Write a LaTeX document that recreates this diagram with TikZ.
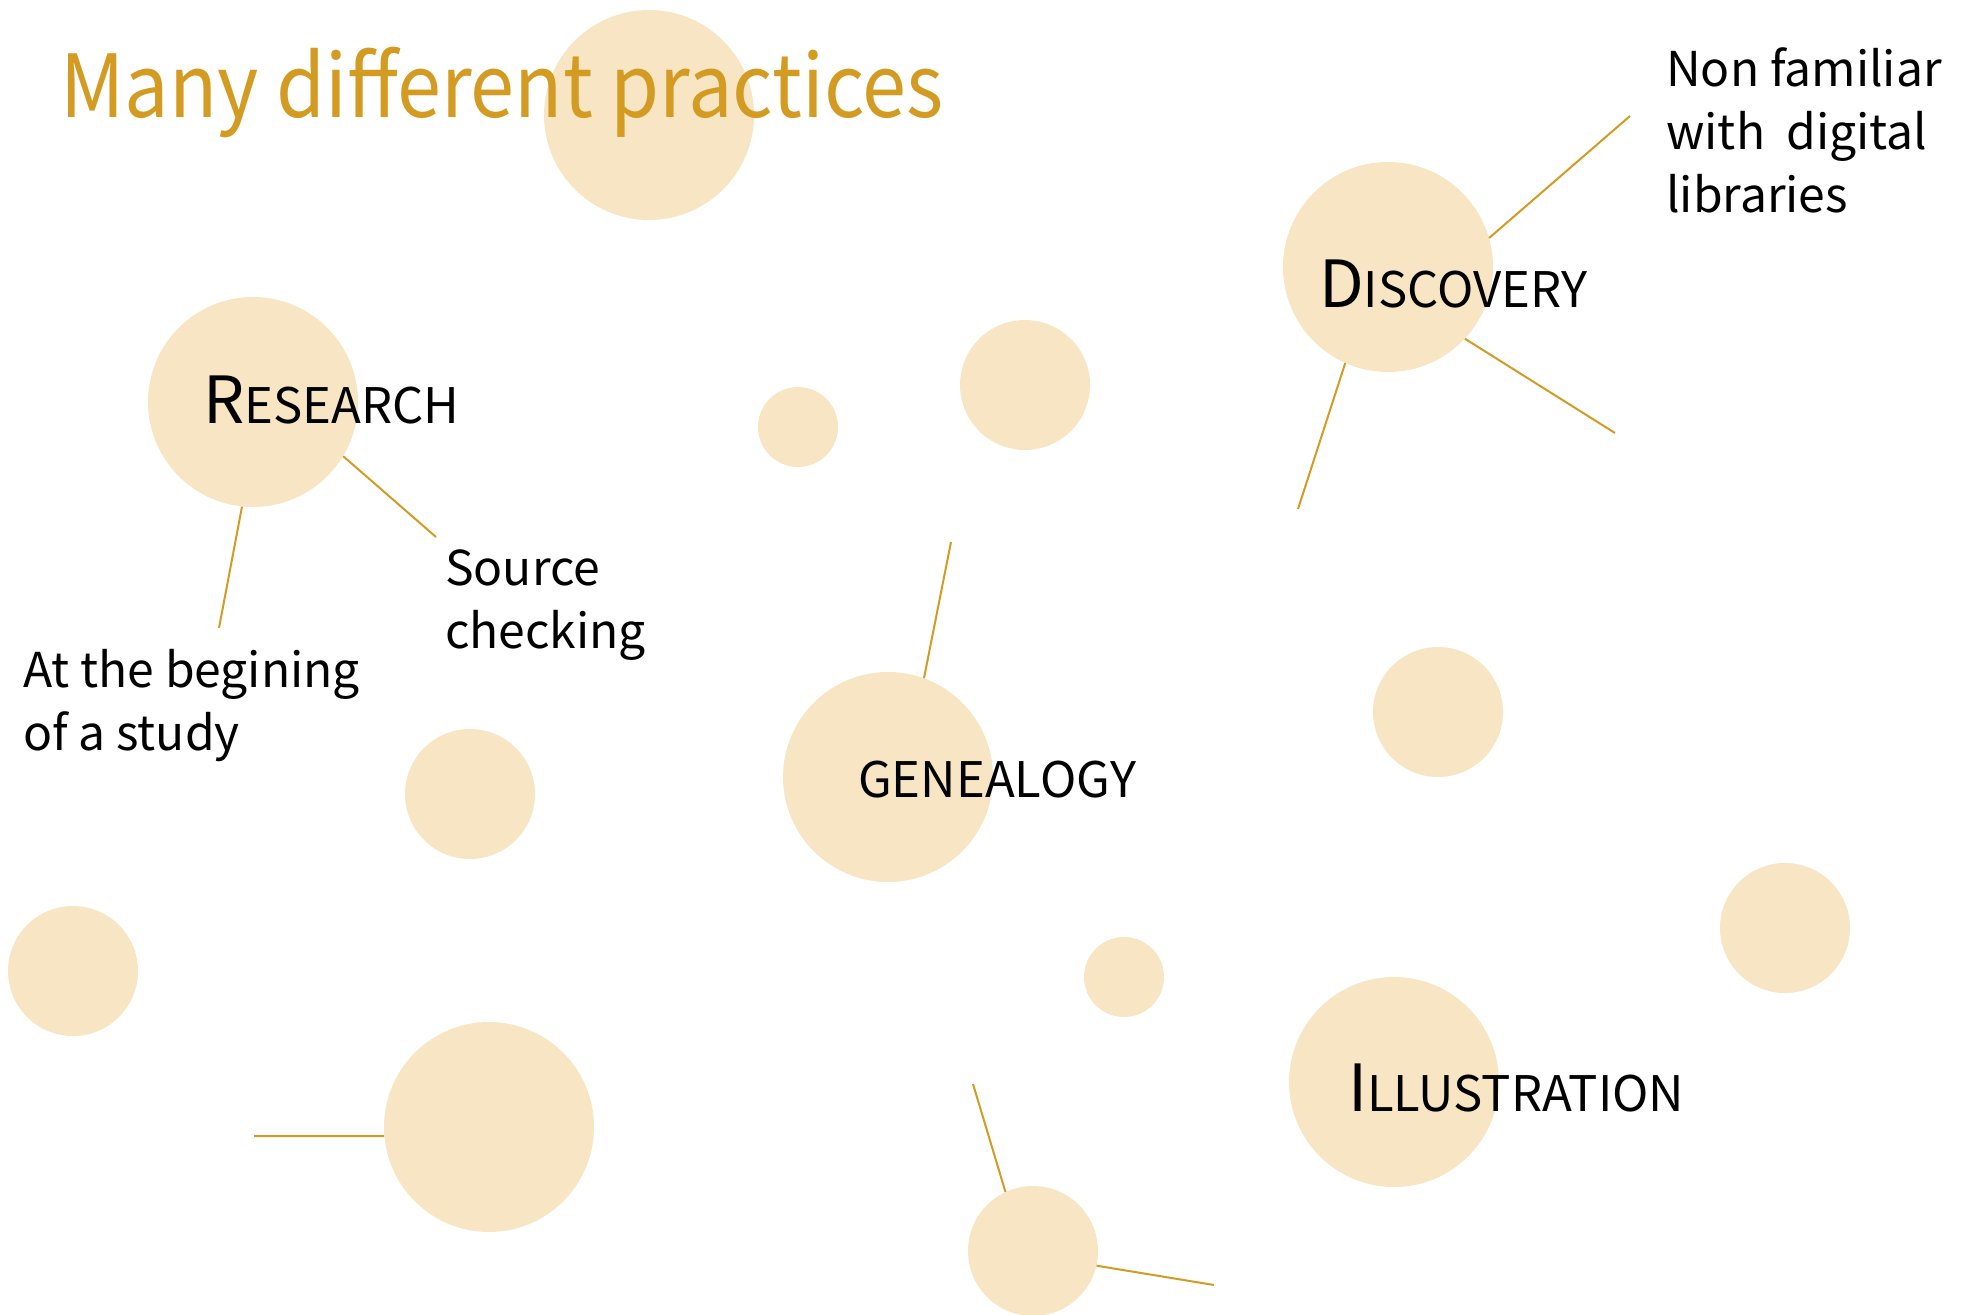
\documentclass[tikz,border=0pt]{standalone}
\usepackage{fontspec}
\setmainfont{Noto Sans CJK JP}
\newfontfamily\titlefont[FakeStretch=0.91]{Noto Sans CJK JP}
\definecolor{wheat}{RGB}{247,229,195}
\definecolor{gold}{RGB}{211,155,33}
\newcommand{\capword}[2]{{\fontsize{65}{70}\selectfont #1}{\fontsize{49}{55}\selectfont #2}}

\begin{document}
\begin{tikzpicture}[x=1pt,y=-1pt,
    blob/.style={circle,fill=wheat,inner sep=0pt,minimum size=#1},
    twig/.style={draw=gold,line width=2pt},
    note/.style={anchor=base west,align=left,inner sep=0pt,font=\fontsize{48}{63}\selectfont}]
\useasboundingbox (0,0) rectangle (1964,1314);
% circles
\node[blob=210pt] (top) at (649,115) {};
\node[blob=210pt] (research) at (253,402) {};
\node[blob=80pt] (dotA) at (798,427) {};
\node[blob=130pt] (dotB) at (1025,385) {};
\node[blob=210pt] (discovery) at (1388,267) {};
\node[blob=130pt] (dotC) at (1438,712) {};
\node[blob=130pt] (dotD) at (470,794) {};
\node[blob=210pt] (genealogy) at (888,777) {};
\node[blob=130pt] (dotE) at (73,971) {};
\node[blob=80pt] (dotF) at (1124,977) {};
\node[blob=130pt] (dotG) at (1785,928) {};
\node[blob=210pt] (illustration) at (1394,1082) {};
\node[blob=210pt] (lowleft) at (489,1127) {};
\node[blob=130pt] (lowmid) at (1033,1251) {};
% free ends
\coordinate (rA) at (436,537);
\coordinate (rB) at (219,628);
\coordinate (gA) at (951,542);
\coordinate (dA) at (1630,116);
\coordinate (dB) at (1615,433);
\coordinate (dC) at (1298,509);
\coordinate (lA) at (254,1136);
\coordinate (mA) at (973,1084);
\coordinate (mB) at (1214,1285);
\draw[twig] (research.-31) -- (rA);
\draw[twig] (research.-96) -- (rB);
\draw[twig] (genealogy.70) -- (gA);
\draw[twig] (discovery.16) -- (dA);
\draw[twig] (discovery.-43) -- (dB);
\draw[twig] (discovery.-114) -- (dC);
\draw[twig] (lowleft.185) -- (lA);
\draw[twig] (lowmid.115) -- (mA);
\draw[twig] (lowmid.-13) -- (mB);
% texts
\node[anchor=base west,inner sep=0pt,text=gold,font=\titlefont\fontsize{87}{90}\selectfont] (title) at (60,117) {Many different practices};
\node[anchor=base west,inner sep=0pt] (researchtxt) at (203,423) {\capword{R}{ESEARCH}};
\node[anchor=base west,inner sep=0pt] (discoverytxt) at (1319,307) {\capword{D}{ISCOVERY}};
\node[anchor=base west,inner sep=0pt,font=\fontsize{49}{55}\selectfont] (genealogytxt) at (858,797) {GENEALOGY};
\node[anchor=base west,inner sep=0pt] (illustrationtxt) at (1348,1111) {\capword{I}{LLUSTRATION}};
\node[note] (source) at (445,648) {Source\\checking};
\node[note] (begin) at (23,750) {At the begining\\of a study};
\node[note] (nonfam) at (1666,212) {Non familiar\\with~ digital\\libraries};
\end{tikzpicture}
\end{document}
